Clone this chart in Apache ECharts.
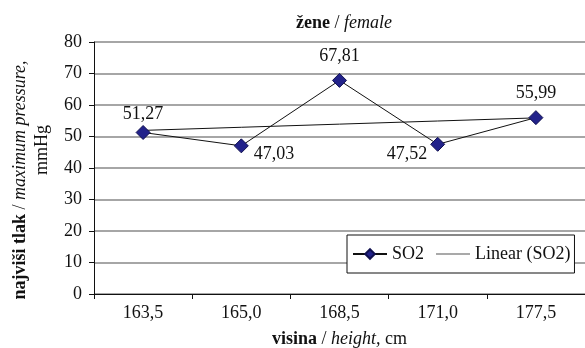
<!DOCTYPE html>
<html>
<head>
<meta charset="utf-8">
<script src="https://cdn.jsdelivr.net/npm/echarts@6/dist/echarts.min.js"></script>
<style>
  html, body { margin: 0; padding: 0; background: #fff; }
  #chart { width: 585px; height: 348px; }
</style>
</head>
<body>
<div id="chart"></div>
<script>
// Height groups (cm) and mean maximum blood pressure (mmHg)
var categories = ['163,5', '165,0', '168,5', '171,0', '177,5'];
var so2Values = [51.27, 47.03, 67.81, 47.52, 55.99];
var yTicks = [0, 10, 20, 30, 40, 50, 60, 70, 80];

// Least-squares linear trend over the category index
function linearTrend(vals) {
  var n = vals.length, sx = 0, sy = 0, sxy = 0, sxx = 0;
  for (var i = 0; i < n; i++) {
    var x = i + 1;
    sx += x; sy += vals[i]; sxy += x * vals[i]; sxx += x * x;
  }
  var b = (n * sxy - sx * sy) / (n * sxx - sx * sx);
  var a = (sy - b * sx) / n;
  return vals.map(function (_, i) { return a + b * (i + 1); });
}
var trendValues = linearTrend(so2Values);

var serif = '"Liberation Serif", "Times New Roman", serif';
var FS = 18;
var fmt = function (v) { return v.toFixed(2).replace('.', ','); };

// Per-point label placement
var labelPlacement = [
  { position: 'top', distance: 2 },
  { position: 'right', distance: 5, offset: [0, 8] },
  { position: 'top', distance: 8 },
  { position: 'left', distance: 3, offset: [0, 10] },
  { position: 'top', distance: 8 }
];

var so2Data = so2Values.map(function (v, i) {
  var p = labelPlacement[i];
  return {
    value: v,
    label: { position: p.position, distance: p.distance, offset: p.offset || [0, 0] }
  };
});

var richStyles = {
  b: { fontFamily: serif, fontSize: FS, fontWeight: 'bold', color: '#111' },
  i: { fontFamily: serif, fontSize: FS, fontStyle: 'italic', color: '#111' },
  n: { fontFamily: serif, fontSize: FS, color: '#111' }
};

var LH = 22;
var chart = echarts.init(document.getElementById('chart'), null, { renderer: 'canvas' });
chart.setOption({
  animation: false,
  backgroundColor: '#fff',
  textStyle: { fontFamily: serif, color: '#111' },
  title: {
    text: '{b|žene}{n| / }{i|female}',
    left: 339, top: 9, textAlign: 'center',
    textStyle: { fontFamily: serif, fontSize: FS, fontWeight: 'normal', color: '#111', rich: richStyles }
  },
  legend: {
    left: 347, top: 235,
    itemWidth: 34, itemHeight: 12, itemGap: 12,
    padding: [10, 4, 10, 5],
    borderColor: '#111', borderWidth: 1,
    backgroundColor: '#fff',
    textStyle: { fontFamily: serif, fontSize: FS, color: '#111' },
    data: [
      { name: 'SO2' },
      { name: 'Linear (SO2)', icon: 'path://M0,0h34v1h-34z', itemStyle: { color: '#555' } }
    ]
  },
  grid: { left: 94, right: 0, top: 42, bottom: 54, containLabel: false, outerBoundsMode: 'none' },
  xAxis: {
    type: 'category',
    data: categories,
    boundaryGap: true,
    name: '{b|visina}{n| / }{i|height,}{n| cm}',
    nameLocation: 'middle',
    nameGap: 36,
    nameTextStyle: { fontFamily: serif, fontSize: FS, color: '#111', rich: richStyles },
    axisLine: { lineStyle: { color: '#111', width: 1 } },
    axisTick: { show: true, inside: false, length: 5, alignWithLabel: false, lineStyle: { color: '#111' } },
    axisLabel: { fontFamily: serif, fontSize: FS, color: '#111', margin: 10 },
    splitLine: { show: false }
  },
  yAxis: {
    type: 'value',
    min: yTicks[0], max: yTicks[yTicks.length - 1], interval: 10,
    name: '{b|najviši tlak}{n| / }{e|maximum pressure,}\n{m|mmHg}',
    nameLocation: 'middle',
    nameRotate: 90,
    nameGap: 40,
    nameTextStyle: {
      fontFamily: serif, fontSize: FS, color: '#111', lineHeight: LH, align: 'center',
      rich: {
        b: { fontFamily: serif, fontSize: FS, fontWeight: 'bold', color: '#111', lineHeight: LH },
        n: { fontFamily: serif, fontSize: FS, color: '#111', lineHeight: LH },
        e: { fontFamily: serif, fontSize: FS, fontStyle: 'italic', color: '#111', lineHeight: LH, padding: [0, 24, 0, 0] },
        m: { fontFamily: serif, fontSize: FS, color: '#111', lineHeight: LH, padding: [0, 0, 0, 36] }
      }
    },
    axisLine: { show: true, lineStyle: { color: '#111', width: 1 } },
    axisTick: { show: true, inside: false, length: 5, lineStyle: { color: '#111' } },
    axisLabel: { fontFamily: serif, fontSize: FS, color: '#111', margin: 12 },
    splitLine: { show: true, lineStyle: { color: '#888', width: 1.5 } }
  },
  series: [
    {
      name: 'SO2',
      type: 'line',
      data: so2Data,
      symbol: 'diamond',
      symbolSize: 14,
      itemStyle: { color: '#22228a', borderColor: '#111150', borderWidth: 1 },
      lineStyle: { color: '#111', width: 1 },
      label: {
        show: true,
        fontFamily: serif, fontSize: FS, color: '#111',
        formatter: function (p) { return fmt(p.value); }
      },
      z: 3
    },
    {
      name: 'Linear (SO2)',
      type: 'line',
      data: trendValues,
      symbol: 'none',
      itemStyle: { color: '#111' },
      lineStyle: { color: '#111', width: 1 },
      silent: true,
      z: 2
    }
  ]
});
</script>
</body>
</html>
